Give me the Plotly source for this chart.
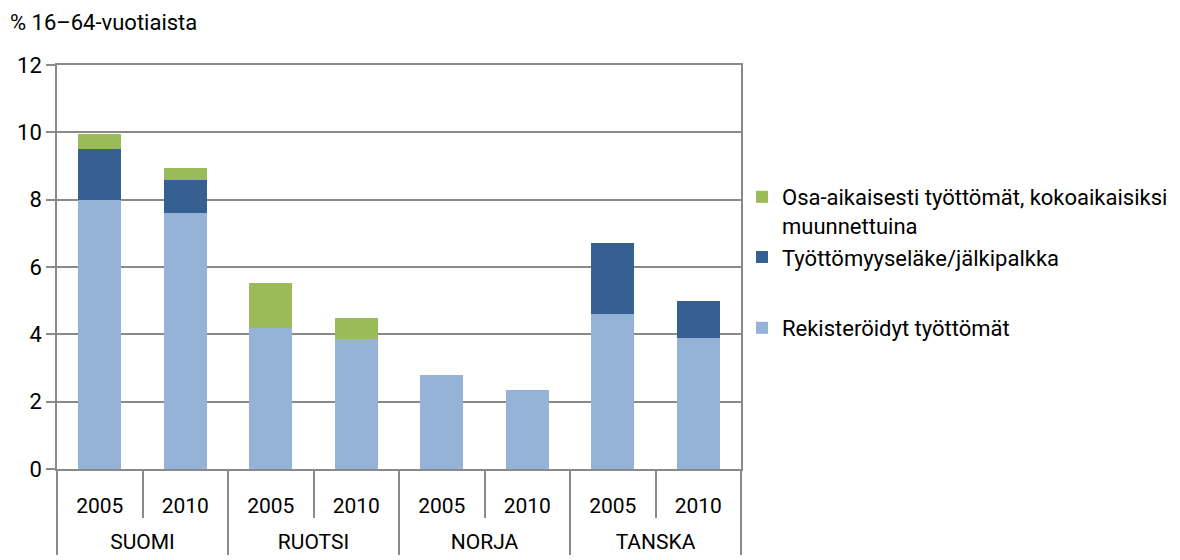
import plotly.graph_objects as go

countries = ["SUOMI", "SUOMI", "RUOTSI", "RUOTSI", "NORJA", "NORJA", "TANSKA", "TANSKA"]
years = ["2005", "2010", "2005", "2010", "2005", "2010", "2005", "2010"]

registered = [8.0, 7.6, 4.2, 3.85, 2.8, 2.35, 4.6, 3.9]
pension = [1.5, 0.98, 0, 0, 0, 0, 2.1, 1.1]
parttime = [0.45, 0.36, 1.33, 0.65, 0, 0, 0, 0]

names = [
    "Rekisteröidyt työttömät",
    "Työttömyyseläke/jälkipalkka",
    "Osa-aikaisesti työttömät, kokoaikaisiksi<br>muunnettuina",
]
colors = ["#95B3D7", "#366092", "#9BBB59"]
legends = ["legend2", "legend", "legend"]

FONT = "Roboto, sans-serif"

country_labels = ["<br>" + c for c in countries]

fig = go.Figure()
for vals, nm, col, grp, lg in zip([registered, pension, parttime], names, colors,
                                  ["a", "b", "c"], legends):
    fig.add_trace(go.Bar(
        x=[country_labels, years], y=vals, name=nm, marker_color=col,
        marker_line_width=0, legendgroup=grp, legend=lg,
    ))

leg_common = dict(
    x=(742 - 57) / 684, xanchor="left", yanchor="top",
    traceorder="reversed", valign="top",
    font=dict(size=22), itemwidth=30, bgcolor="rgba(0,0,0,0)",
)

# page body has an 8px margin, so the figure is sized/offset to compensate
fig.update_layout(
    barmode="stack",
    bargap=0.5,
    width=1172, height=552,
    margin=dict(l=49, r=439, t=57, b=91, autoexpand=False),
    plot_bgcolor="white", paper_bgcolor="white",
    font=dict(family=FONT, size=21, color="#000000"),
    showlegend=True,
    legend=dict(y=1 - 111 / 404, tracegroupgap=16, **leg_common),
    legend2=dict(y=1 - (307 - 65) / 404, **leg_common),
    annotations=[dict(
        text="% 16–64-vuotiaista", xref="paper", yref="paper",
        x=-49 / 684, y=1 + 42 / 404, xanchor="left", yanchor="middle",
        showarrow=False, font=dict(size=22),
    )],
)
fig.update_yaxes(
    range=[0, 12], dtick=2, showgrid=True, gridcolor="#8a8a8a", gridwidth=1.5,
    showline=True, linecolor="#8a8a8a", linewidth=1.5, mirror=True,
    ticks="outside", ticklen=9, tickcolor="#8a8a8a", tickwidth=1.5,
    zeroline=False, tickfont=dict(size=22), automargin=False,
)
fig.update_xaxes(
    showline=True, linecolor="#8a8a8a", linewidth=1.5, mirror=True,
    ticks="outside", ticklen=47, tickcolor="#8a8a8a", tickwidth=1.5,
    showdividers=True, dividercolor="#8a8a8a", dividerwidth=1.5,
    tickfont=dict(size=21), automargin=False, ticklabelstandoff=17,
)

fig.write_html("out.html")
